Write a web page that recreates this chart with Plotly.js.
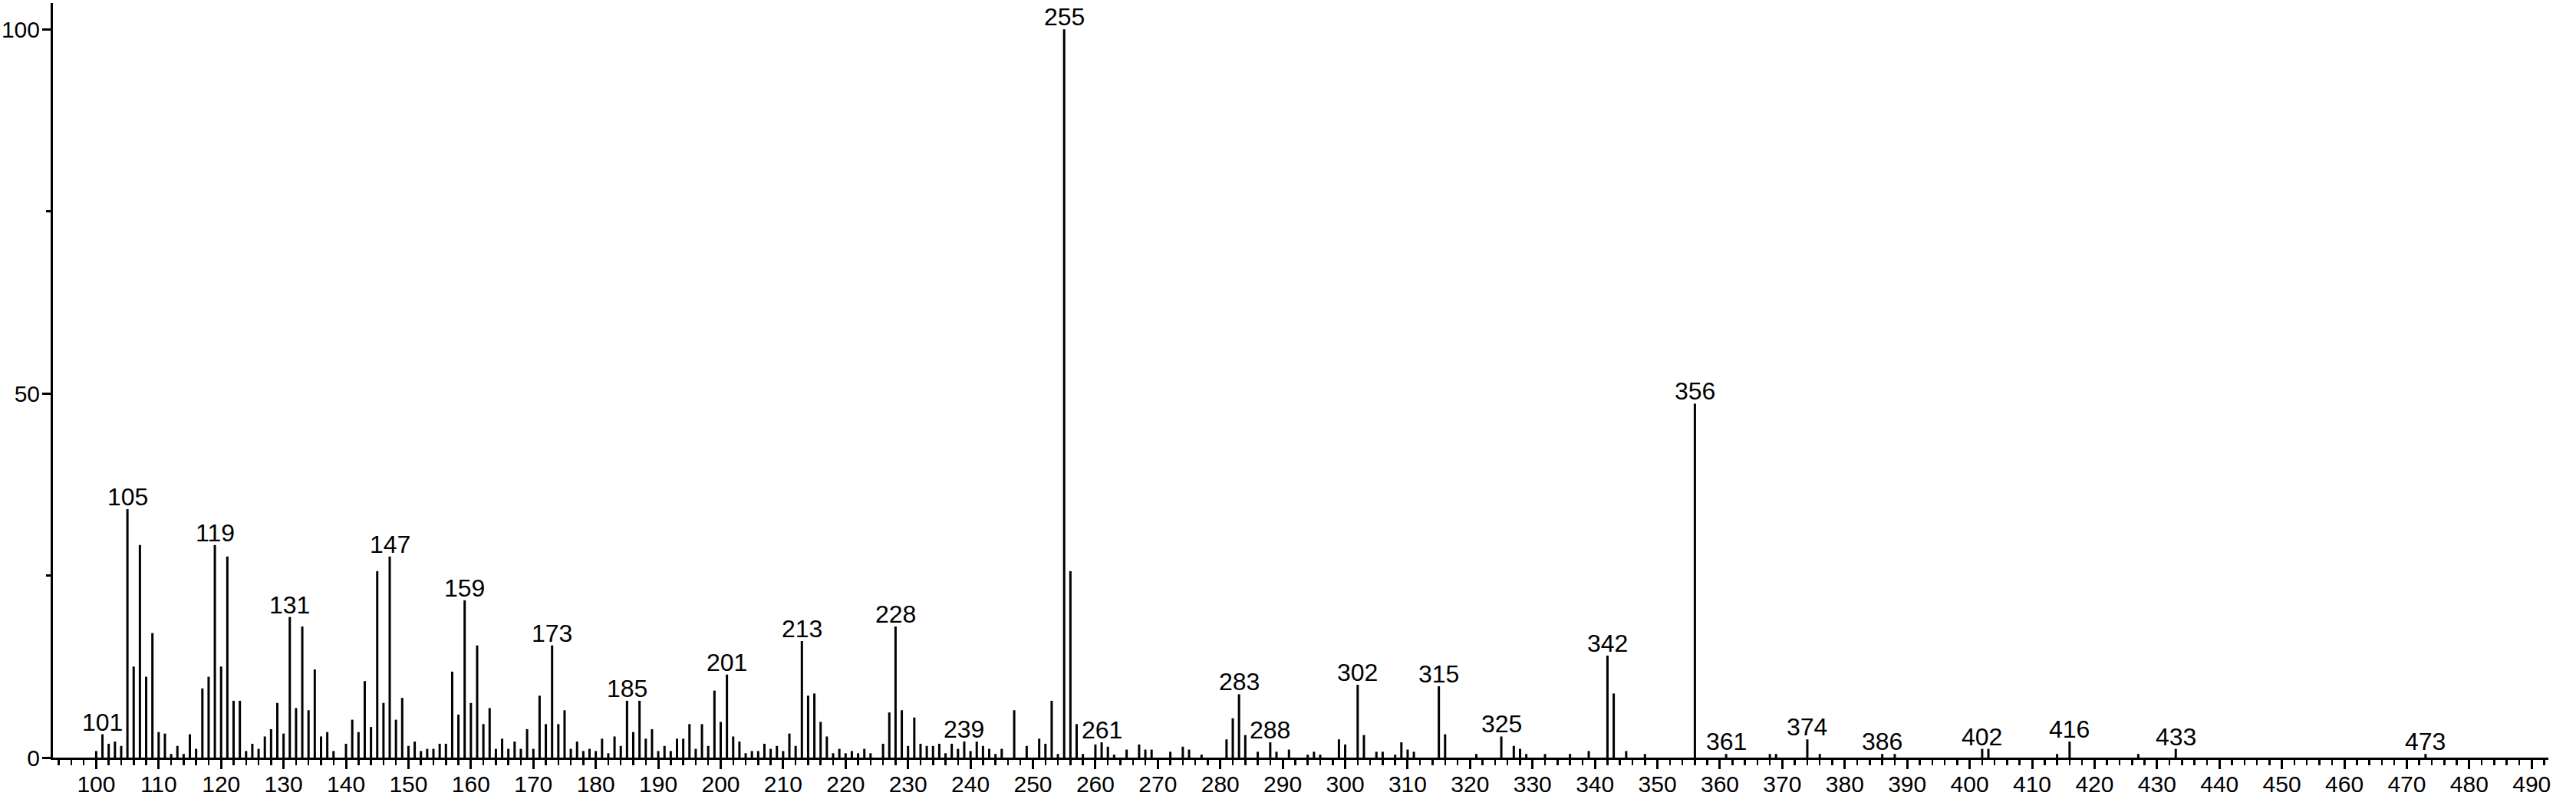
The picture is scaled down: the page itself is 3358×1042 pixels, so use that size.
<!DOCTYPE html>
<html>
<head>
<meta charset="utf-8">
<script src="https://cdn.plot.ly/plotly-3.0.1.min.js"></script>
<style>html,body{margin:0;padding:0;background:#fff;}#chart{width:3358px;height:1042px;}</style>
</head>
<body>
<div id="chart"></div>
<script>
// m/z values of the peaks
var mz = [100,101,102,103,104,105,106,107,108,109,110,111,112,113,114,115,116,117,118,119,
  120,121,122,123,124,125,126,127,128,129,130,131,132,133,134,135,136,137,138,140,
  141,142,143,144,145,146,147,148,149,150,151,152,153,154,155,156,157,158,159,160,
  161,162,163,164,165,166,167,168,169,170,171,172,173,174,175,176,177,178,179,180,
  181,182,183,184,185,186,187,188,189,190,191,192,193,194,195,196,197,198,199,200,
  201,202,203,204,205,206,207,208,209,210,211,212,213,214,215,216,217,218,219,220,
  221,222,223,224,226,227,228,229,230,231,232,233,234,235,236,237,238,239,240,241,
  242,243,244,245,247,249,251,252,253,254,255,256,257,258,260,261,262,263,265,267,
  268,269,272,274,275,277,281,282,283,284,286,288,289,291,294,295,296,299,300,302,
  303,305,306,308,309,310,311,315,316,321,325,327,328,329,332,336,339,342,343,345,
  348,356,361,368,369,374,376,386,388,402,403,414,416,427,433,473];

// relative intensities (%)
var intensity = [0.9,3.2,1.9,2.2,1.6,34.1,12.5,29.2,11.1,17.1,3.5,3.3,0.5,1.6,0.5,3.2,1.2,9.5,11.1,29.2,
  12.5,27.6,7.8,7.8,0.9,1.9,1.2,2.9,3.9,7.5,3.3,19.3,6.8,18.0,6.5,12.1,2.9,3.5,0.9,1.9,
  5.2,3.5,10.5,4.2,25.6,7.5,27.6,5.2,8.2,1.6,2.2,0.9,1.2,1.2,1.9,1.9,11.8,5.9,21.6,7.5,
  15.4,4.6,6.8,1.2,2.6,1.2,2.2,1.2,3.9,1.2,8.5,4.6,15.4,4.6,6.5,1.2,2.2,0.9,1.2,0.9,
  2.6,0.6,2.9,1.6,7.8,3.5,7.8,2.6,3.9,0.9,1.6,0.9,2.6,2.6,4.6,1.2,4.6,1.6,9.2,4.9,
  11.4,2.9,2.2,0.6,0.9,0.9,1.9,1.2,1.6,0.9,3.3,1.6,16.0,8.5,8.8,4.9,2.9,0.6,1.2,0.6,
  0.9,0.6,1.2,0.6,1.9,6.2,18.0,6.5,1.6,5.5,1.9,1.6,1.6,1.9,0.6,1.9,1.2,2.2,0.9,2.2,
  1.6,1.2,0.5,1.2,6.5,1.6,2.6,1.9,7.8,0.5,100,25.6,4.6,0.5,1.8,2.1,1.5,0.4,1.1,1.8,
  1.1,1.1,0.8,1.5,1.1,0.4,2.5,5.4,8.7,3.1,0.8,2.1,0.8,1.1,0.4,0.8,0.4,2.5,1.8,10.0,
  3.1,0.8,0.8,0.4,2.1,1.1,0.8,9.8,3.2,0.5,2.9,1.6,1.2,0.5,0.5,0.5,0.9,14.0,8.8,0.9,
  0.5,48.6,0.5,0.5,0.5,2.5,0.5,0.5,0.5,1.2,1.2,0.5,2.2,0.5,1.2,0.5];

// peaks carrying an m/z label
var labeledPeaks = [101,105,119,131,147,159,173,185,201,213,228,239,255,261,283,288,
  302,315,325,342,356,361,374,386,402,416,433,473];

// axis ticks
var xTickVals = [100,110,120,130,140,150,160,170,180,190,200,210,220,230,240,250,260,270,280,290,
  300,310,320,330,340,350,360,370,380,390,400,410,420,430,440,450,460,470,480,490];
var yTickVals = [0,50,100];

var FONT = 'Liberation Sans, Arial, Helvetica, sans-serif';

var trace = {
  type: 'bar',
  x: mz,
  y: intensity,
  width: 0.37,
  marker: {color: '#000000', line: {width: 0}},
  hoverinfo: 'x+y'
};

var annotations = labeledPeaks.map(function (m) {
  var i = mz.indexOf(m);
  return {
    x: m, y: intensity[i], xref: 'x', yref: 'y',
    text: String(m), showarrow: false,
    xanchor: 'center', yanchor: 'bottom', yshift: -4,
    font: {family: FONT, size: 32, color: '#000'}
  };
});

var layout = {
  width: 3358, height: 1042,
  margin: {l: 69, r: 36, t: 4, b: 54, pad: 0},
  paper_bgcolor: '#ffffff', plot_bgcolor: '#ffffff',
  showlegend: false,
  font: {family: FONT, size: 31, color: '#000'},
  xaxis: {
    range: [93.07, 492.67],
    tickmode: 'array', tickvals: xTickVals,
    ticks: 'outside', ticklen: 12, tickwidth: 3, tickcolor: '#000',
    ticklabelstandoff: -6,
    minor: {dtick: 2, tick0: 0, ticks: 'outside', ticklen: 7, tickwidth: 2.5, tickcolor: '#000', showgrid: false},
    showline: true, linewidth: 3, linecolor: '#000',
    showgrid: false, zeroline: false,
    tickfont: {family: FONT, size: 30, color: '#000'}
  },
  yaxis: {
    range: [0, 103.6],
    tickmode: 'array', tickvals: yTickVals,
    ticks: 'outside', ticklen: 11, tickwidth: 3, tickcolor: '#000',
    ticklabelstandoff: -3,
    minor: {tickvals: [25, 75], ticks: 'outside', ticklen: 6, tickwidth: 3, tickcolor: '#000', showgrid: false},
    showline: true, linewidth: 3, linecolor: '#000',
    showgrid: false, zeroline: false,
    tickfont: {family: FONT, size: 30, color: '#000'}
  },
  annotations: annotations
};

Plotly.newPlot('chart', [trace], layout, {staticPlot: true, displayModeBar: false});
</script>
</body>
</html>
